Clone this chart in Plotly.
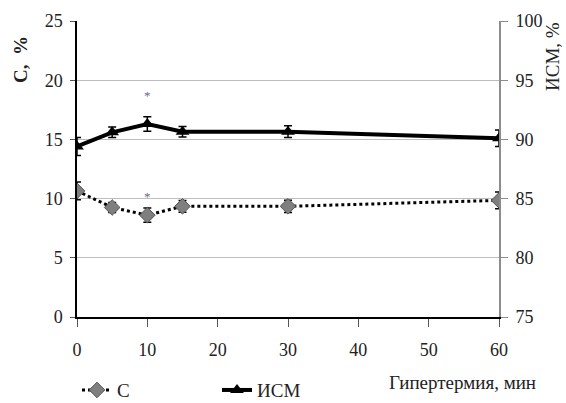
import plotly.graph_objects as go

time_min = [0, 5, 10, 15, 30, 60]
c_values = [10.65, 9.25, 8.6, 9.35, 9.35, 9.85]
c_err = [0.75, 0.42, 0.6, 0.5, 0.52, 0.7]
ism_values = [89.4, 90.6, 91.3, 90.65, 90.65, 90.1]
ism_err = [0.75, 0.45, 0.62, 0.45, 0.5, 0.7]
star_x = [10, 10]
star_y_left = [18.6, 10.05]

left_ticks = [0, 5, 10, 15, 20, 25]
right_ticks = [75, 80, 85, 90, 95, 100]
x_ticks = [0, 10, 20, 30, 40, 50, 60]

FONT = "Liberation Serif"

fig = go.Figure()
fig.add_trace(go.Scatter(
    x=time_min, y=c_values, name="С", mode="lines+markers",
    line=dict(color="black", width=3, dash="dot"),
    marker=dict(symbol="diamond", size=12, color="#7f7f7f", line=dict(color="#555555", width=1)),
    error_y=dict(type="data", array=c_err, color="black", thickness=1.5, width=4),
    yaxis="y"))
fig.add_trace(go.Scatter(
    x=time_min, y=ism_values, name="ИСМ", mode="lines+markers",
    line=dict(color="black", width=4),
    marker=dict(symbol="triangle-up", size=12, color="black"),
    error_y=dict(type="data", array=ism_err, color="black", thickness=1.5, width=4),
    yaxis="y2"))
fig.add_trace(go.Scatter(
    x=star_x, y=star_y_left, mode="text", text=["*", "*"], showlegend=False,
    textfont=dict(family=FONT, size=13, color="#6a6a8a"), textposition="middle center",
    hoverinfo="skip", yaxis="y"))

fig.update_layout(
    width=566, height=403,
    margin=dict(l=77, r=67, t=21, b=86, autoexpand=False),
    paper_bgcolor="white", plot_bgcolor="white",
    font=dict(family=FONT, size=18, color="#222"),
    xaxis=dict(range=[0, 60], tickvals=x_ticks, showgrid=False, zeroline=False,
               showline=True, linecolor="black", linewidth=1.5,
               ticks="outside", ticklen=8, tickcolor="#555", ticklabelstandoff=8),
    yaxis=dict(range=[0, 25], tickvals=left_ticks, showgrid=True, gridcolor="#bdbdbd", gridwidth=1,
               zeroline=False, showline=True, linecolor="black", linewidth=1.5,
               ticks="outside", ticklen=5, tickcolor="#555", ticklabelstandoff=4),
    yaxis2=dict(range=[75, 100], tickvals=right_ticks, overlaying="y", side="right",
                showgrid=False, zeroline=False, showline=True, linecolor="#8c8c8c", linewidth=2,
                ticks="outside", ticklen=7, tickcolor="#8c8c8c", ticklabelstandoff=4),
    legend=dict(orientation="h", x=0.0, y=-0.247, xanchor="left", yanchor="middle",
                font=dict(family=FONT, size=19), entrywidth=95, entrywidthmode="pixels",
                bgcolor="rgba(0,0,0,0)"),
    annotations=[
        dict(text="Гипертермия, мин", xref="paper", yref="paper", x=1.092, y=-(382 - 317) / 296,
             xanchor="right", yanchor="middle", showarrow=False,
             font=dict(family=FONT, size=19)),
        dict(text="<b>С,  %</b>", xref="paper", yref="paper", x=(20 - 77) / 422, y=(317 - 60) / 296,
             xanchor="center", yanchor="middle", textangle=-90, showarrow=False,
             font=dict(family=FONT, size=19)),
        dict(text="ИСМ, %", xref="paper", yref="paper", x=(553 - 77) / 422, y=(317 - 57) / 296,
             xanchor="center", yanchor="middle", textangle=-90, showarrow=False,
             font=dict(family=FONT, size=19)),
    ],
    showlegend=True,
)

fig.write_html("out.html", config={"displayModeBar": False},
               post_script="document.body.style.margin='0';document.body.style.overflow='hidden';")
